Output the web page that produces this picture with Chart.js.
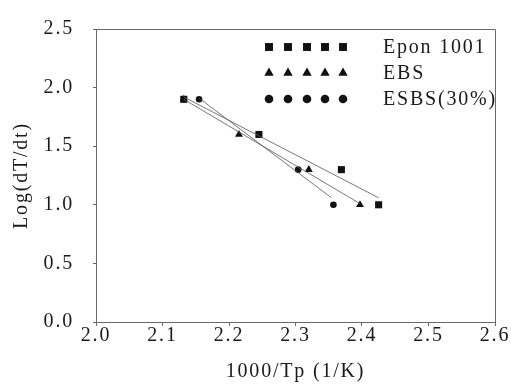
<!DOCTYPE html>
<html>
<head>
<meta charset="utf-8">
<script src="https://cdn.jsdelivr.net/npm/chart.js@4/dist/chart.umd.min.js"></script>
<style>
html,body{margin:0;padding:0;background:#fff;}
#wrap{width:511px;height:386px;position:relative;}
</style>
</head>
<body>
<div id="wrap"><canvas id="c" width="511" height="386"></canvas></div>
<script>
// ---- data ----
const seriesLabels = ['Epon 1001', 'EBS', 'ESBS(30%)'];
const eponX = [2.132, 2.245, 2.369, 2.425];
const eponY = [1.90, 1.60, 1.30, 1.00];
const ebsX = [2.132, 2.215, 2.320, 2.397];
const ebsY = [1.90, 1.60, 1.30, 1.00];
const esbsX = [2.155, 2.304, 2.357];
const esbsY = [1.90, 1.30, 1.00];
// fitted trend lines (end points)
const eponFitX = [2.132, 2.425];
const eponFitY = [1.92, 1.06];
const ebsFitX = [2.132, 2.397];
const ebsFitY = [1.90, 1.01];
const esbsFitX = [2.155, 2.354];
const esbsFitY = [1.91, 1.06];
// ticks
const xTickValues = [2.0, 2.1, 2.2, 2.3, 2.4, 2.5, 2.6];
const xTickLabels = ['2.0', '2.1', '2.2', '2.3', '2.4', '2.5', '2.6'];
const yTickValues = [0.0, 0.5, 1.0, 1.5, 2.0, 2.5];
const yTickLabels = ['0.0', '0.5', '1.0', '1.5', '2.0', '2.5'];
const xTitle = '1000/Tp (1/K)';
const yTitle = 'Log(dT/dt)';

const pts = (xs, ys) => xs.map((x, i) => ({x: x, y: ys[i]}));
const FONT = '"Liberation Serif", "Times New Roman", serif';
const TXT = '#1a1a1a';
const AX = '#6a6a6a';

const markerDefs = [
  {style: 'rect', r: 5, legendR: 5.6},
  {style: 'triangle', r: 4.6, legendR: 5.4},
  {style: 'circle', r: 3.3, legendR: 4.3}
];

const datasets = [
  {label: 'fit1', data: pts(eponFitX, eponFitY), showLine: true, pointRadius: 0, borderColor: '#555', borderWidth: 0.8, fill: false, isFit: true},
  {label: 'fit2', data: pts(ebsFitX, ebsFitY), showLine: true, pointRadius: 0, borderColor: '#555', borderWidth: 0.8, fill: false, isFit: true},
  {label: 'fit3', data: pts(esbsFitX, esbsFitY), showLine: true, pointRadius: 0, borderColor: '#555', borderWidth: 0.8, fill: false, isFit: true},
  {label: seriesLabels[1], data: pts(ebsX, ebsY), showLine: false, pointStyle: markerDefs[1].style, pointRadius: markerDefs[1].r, backgroundColor: '#111', borderColor: '#111', borderWidth: 0, legendIdx: 1},
  {label: seriesLabels[2], data: pts(esbsX, esbsY), showLine: false, pointStyle: markerDefs[2].style, pointRadius: markerDefs[2].r, backgroundColor: '#111', borderColor: '#111', borderWidth: 0, legendIdx: 2},
  {label: seriesLabels[0], data: pts(eponX, eponY), showLine: false, pointStyle: markerDefs[0].style, pointRadius: markerDefs[0].r, backgroundColor: '#111', borderColor: '#111', borderWidth: 0, legendIdx: 0}
];

function drawMarker(ctx, style, r, x, y) {
  ctx.beginPath();
  if (style === 'rect') {
    const s = r * Math.SQRT1_2;
    ctx.rect(x - s, y - s, 2 * s, 2 * s);
  } else if (style === 'triangle') {
    ctx.moveTo(x, y - r);
    ctx.lineTo(x + r * 0.866, y + r * 0.5);
    ctx.lineTo(x - r * 0.866, y + r * 0.5);
    ctx.closePath();
  } else {
    ctx.arc(x, y, r, 0, Math.PI * 2);
  }
  ctx.fill();
}

const spacingPlugin = {
  id: 'spacing',
  beforeDraw(chart) { chart.ctx.letterSpacing = '1.8px'; },
  afterDraw(chart) { chart.ctx.letterSpacing = '0px'; }
};

const framePlugin = {
  id: 'frame',
  beforeDatasetsDraw(chart) {
    const a = chart.chartArea, ctx = chart.ctx;
    ctx.save();
    ctx.strokeStyle = AX;
    ctx.lineWidth = 1;
    ctx.beginPath();
    ctx.moveTo(a.left, a.top + 0.5);
    ctx.lineTo(a.right + 0.5, a.top + 0.5);
    ctx.lineTo(a.right + 0.5, a.bottom);
    ctx.stroke();
    ctx.restore();
  }
};

const legendPlugin = {
  id: 'customLegend',
  afterDraw(chart) {
    const ctx = chart.ctx;
    const xs = chart.scales.x, ys = chart.scales.y;
    // legend anchored to the plot area (in data units of the frame)
    const a = chart.chartArea;
    const markerXs = [269, 288, 307, 325, 343].map(v => a.left + (v - 96));
    const rowYs = [38, 64, 90].map(v => a.top + (v - 20));
    const textX = a.left + (383 - 96);
    ctx.save();
    ctx.letterSpacing = '1.8px';
    ctx.fillStyle = '#111';
    const items = chart.data.datasets.filter(d => d.legendIdx !== undefined)
      .sort((p, q) => p.legendIdx - q.legendIdx);
    items.forEach((d, i) => {
      const m = markerDefs[d.legendIdx];
      markerXs.forEach(mx => drawMarker(ctx, m.style, m.legendR, mx, rowYs[i]));
      ctx.fillStyle = TXT;
      ctx.font = '20px ' + FONT;
      ctx.textBaseline = 'middle';
      ctx.textAlign = 'left';
      ctx.fillText(d.label, textX, rowYs[i] + 1);
      ctx.fillStyle = '#111';
    });
    ctx.restore();
  }
};

new Chart(document.getElementById('c'), {
  type: 'scatter',
  data: {datasets: datasets},
  plugins: [spacingPlugin, framePlugin, legendPlugin],
  options: {
    responsive: false,
    animation: false,
    layout: {padding: {left: 0, right: 16, top: 20, bottom: 0}},
    plugins: {legend: {display: false}, tooltip: {enabled: false}},
    elements: {line: {tension: 0}},
    scales: {
      x: {
        type: 'linear', min: 2.0, max: 2.6,
        afterBuildTicks: s => { s.ticks = xTickValues.map(v => ({value: v})); },
        afterFit: s => { s.height = 64; },
        ticks: {
          callback: (v) => { const i = xTickValues.findIndex(t => Math.abs(t - v) < 1e-9); return i >= 0 ? xTickLabels[i] : ''; },
          font: {family: FONT, size: 20, lineHeight: 1}, color: TXT, padding: 0, maxRotation: 0, autoSkip: false
        },
        grid: {display: true, drawOnChartArea: false, drawTicks: true, tickLength: 4, color: AX, lineWidth: 1},
        border: {display: true, color: AX, width: 1},
        title: {display: true, text: xTitle, font: {family: FONT, size: 20, lineHeight: 1.2}, color: TXT, padding: {top: 0, bottom: 2}}
      },
      y: {
        type: 'linear', min: 0, max: 2.5,
        afterBuildTicks: s => { s.ticks = yTickValues.map(v => ({value: v})); },
        afterFit: s => { s.width = 96; },
        ticks: {
          callback: (v) => { const i = yTickValues.findIndex(t => Math.abs(t - v) < 1e-9); return i >= 0 ? yTickLabels[i] : ''; },
          font: {family: FONT, size: 20, lineHeight: 1}, color: TXT, padding: 19, autoSkip: false
        },
        grid: {display: true, drawOnChartArea: false, drawTicks: true, tickLength: 3, color: AX, lineWidth: 1},
        border: {display: true, color: AX, width: 1},
        title: {display: true, text: yTitle, font: {family: FONT, size: 20, lineHeight: 1.2}, color: TXT, padding: {top: 10, bottom: 0}}
      }
    }
  }
});
</script>
</body>
</html>
